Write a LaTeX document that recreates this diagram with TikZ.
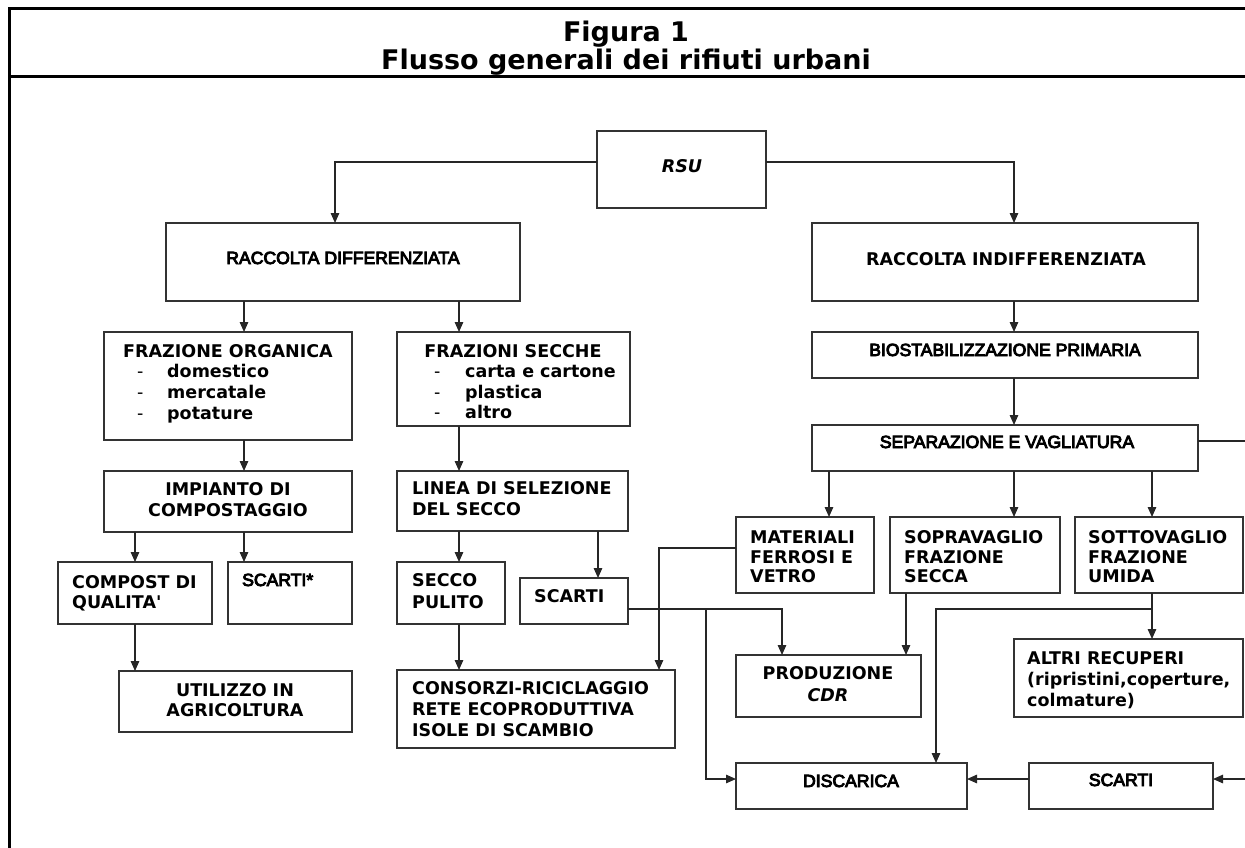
\documentclass[tikz,border=0pt]{standalone}
\usepackage{fontspec}
\newfontfamily\vfont{DejaVu Sans}
\newfontfamily\afont{Liberation Sans}[FakeBold=5]
\usetikzlibrary{arrows.meta}
\newcommand{\mybox}[5]{\node[boxst, anchor=north west, minimum width={(#4-#2)*1pt}, minimum height={(#5-#3)*1pt}] (#1) at (#2,#3) {};}
\newcommand{\txl}[5]{\node[#2, anchor=base west] (#1) at (#3,#4+6) {#5};}
\newcommand{\txc}[5]{\node[#2, anchor=base] (#1) at (#3,#4+6) {#5};}
\begin{document}
\begin{tikzpicture}[x=1pt,y=-1pt,
  boxst/.style={draw=black!80, line width=1.3pt, inner sep=0pt, outer sep=0pt},
  conn/.style={draw=black!85, line width=1.3pt},
  arr/.style={conn, -{Triangle[length=10pt,width=8.5pt]}},
  vt/.style={font=\vfont\bfseries\fontsize{17.5}{20}\selectfont, inner sep=0pt},
  vti/.style={font=\vfont\bfseries\itshape\fontsize{17.5}{20}\selectfont, inner sep=0pt},
  vtn/.style={font=\vfont\fontsize{17.5}{20}\selectfont, inner sep=0pt},
  artx/.style={font=\afont\fontsize{17.6}{20}\selectfont, inner sep=0pt},
  tt/.style={font=\vfont\bfseries\fontsize{27}{28}\selectfont, inner sep=0pt}]
\fill[white] (0,0) rectangle (1245,848);
\useasboundingbox (0,0) rectangle (1245,848);
% frame
\draw[line width=3pt, black] (1260,9) -- (9,9) -- (9,860);
\draw[line width=3pt, black] (9,77) -- (1260,77);
\node[tt, anchor=base] (title1) at (626,42) {Figura 1};
\node[tt, anchor=base] (title2) at (626,70) {Flusso generali dei rifiuti urbani};
% boxes
\mybox{rsu}{597}{131}{766}{208}
\mybox{rd}{166}{223}{520}{301}
\mybox{ri}{812}{223}{1198}{301}
\mybox{fo}{104}{332}{352}{440}
\mybox{fs}{397}{332}{630}{426}
\mybox{bio}{812}{332}{1198}{378}
\mybox{sep}{812}{425}{1198}{471}
\mybox{imp}{104}{471}{352}{532}
\mybox{lin}{397}{471}{628}{531}
\mybox{mat}{736}{517}{874}{593}
\mybox{sop}{890}{517}{1060}{593}
\mybox{sot}{1075}{517}{1243}{593}
\mybox{comp}{58}{562}{212}{624}
\mybox{sca}{228}{562}{352}{624}
\mybox{sec}{397}{562}{505}{624}
\mybox{scb}{520}{578}{628}{624}
\mybox{cons}{397}{670}{675}{748}
\mybox{cdr}{736}{655}{921}{717}
\mybox{alt}{1014}{639}{1243}{717}
\mybox{util}{119}{671}{352}{732}
\mybox{disc}{736}{763}{967}{809}
\mybox{scc}{1029}{763}{1213}{809}
% texts
\txc{trsu}{vti}{682}{166}{RSU}
\txc{trd}{artx}{343}{258}{RACCOLTA DIFFERENZIATA}
\txc{tri}{vt}{1006}{259}{RACCOLTA INDIFFERENZIATA}
\txc{tbio}{artx}{1005}{350}{BIOSTABILIZZAZIONE PRIMARIA}
\txc{tsep}{artx}{1007}{442}{SEPARAZIONE E VAGLIATURA}
\txc{tfo}{vt}{228}{351}{FRAZIONE ORGANICA}
\txl{tfod1}{vtn}{137}{371}{-}
\txl{tfod2}{vtn}{137}{392}{-}
\txl{tfod3}{vtn}{137}{413}{-}
\txl{tfo1}{vt}{167}{371}{domestico}
\txl{tfo2}{vt}{167}{392}{mercatale}
\txl{tfo3}{vt}{167}{413}{potature}
\txc{tfs}{vt}{513}{351}{FRAZIONI SECCHE}
\txl{tfsd1}{vtn}{434}{371}{-}
\txl{tfsd2}{vtn}{434}{392}{-}
\txl{tfsd3}{vtn}{434}{412}{-}
\txl{tfs1}{vt}{465}{371}{carta e cartone}
\txl{tfs2}{vt}{465}{392}{plastica}
\txl{tfs3}{vt}{465}{412}{altro}
\txc{timp1}{vt}{228}{489}{IMPIANTO DI}
\txc{timp2}{vt}{228}{510}{COMPOSTAGGIO}
\txl{tlin1}{vt}{412}{488}{LINEA DI SELEZIONE}
\txl{tlin2}{vt}{412}{509}{DEL SECCO}
\txl{tcomp1}{vt}{72}{582}{COMPOST DI}
\txl{tcomp2}{vt}{72}{602}{QUALITA'}
\txl{tsca}{artx}{242}{580}{SCARTI*}
\txl{tsec1}{vt}{412}{580}{SECCO}
\txl{tsec2}{vt}{412}{602}{PULITO}
\txl{tscb}{vt}{534}{596}{SCARTI}
\txl{tcons1}{vt}{412}{688}{CONSORZI-RICICLAGGIO}
\txl{tcons2}{vt}{412}{709}{RETE ECOPRODUTTIVA}
\txl{tcons3}{vt}{412}{730}{ISOLE DI SCAMBIO}
\txc{tcdr1}{vt}{828}{673}{PRODUZIONE}
\txc{tcdr2}{vti}{828}{695}{CDR}
\txl{tmat1}{vt}{750}{537}{MATERIALI}
\txl{tmat2}{vt}{750}{557}{FERROSI E}
\txl{tmat3}{vt}{750}{576}{VETRO}
\txl{tsop1}{vt}{904}{537}{SOPRAVAGLIO}
\txl{tsop2}{vt}{904}{557}{FRAZIONE}
\txl{tsop3}{vt}{904}{576}{SECCA}
\txl{tsot1}{vt}{1088}{537}{SOTTOVAGLIO}
\txl{tsot2}{vt}{1088}{557}{FRAZIONE}
\txl{tsot3}{vt}{1088}{576}{UMIDA}
\txl{talt1}{vt}{1027}{658}{ALTRI RECUPERI}
\txl{talt2}{vt}{1027}{679}{(ripristini,coperture,}
\txl{talt3}{vt}{1027}{700}{colmature)}
\txc{tutil1}{vt}{235}{690}{UTILIZZO IN}
\txc{tutil2}{vt}{235}{710}{AGRICOLTURA}
\txc{tdisc}{artx}{851}{781}{DISCARICA}
\txc{tscc}{artx}{1121}{780}{SCARTI}
% connector coordinates
\coordinate (xa) at (244,0);
\coordinate (xb) at (459,0);
\coordinate (xc) at (135,0);
\coordinate (xd) at (598,0);
\coordinate (xe) at (1014,0);
\coordinate (xf) at (829,0);
\coordinate (xg) at (1152,0);
\coordinate (xh) at (906,0);
\coordinate (k1) at (335,162);
\coordinate (k2) at (1014,162);
\coordinate (k3) at (659,548);
\coordinate (k4) at (782,609);
\coordinate (k5) at (706,609);
\coordinate (k6) at (706,779);
\coordinate (k7) at (1152,609);
\coordinate (k8) at (936,609);
\coordinate (sepR) at (1260,441);
\coordinate (edR) at (1260,779);
% connectors
\draw[arr] (rsu.west |- k1) -- (k1) -- (rd.north -| k1);
\draw[arr] (rsu.east |- k2) -- (k2) -- (ri.north -| k2);
\draw[arr] (rd.south -| xa) -- (fo.north -| xa);
\draw[arr] (rd.south -| xb) -- (fs.north -| xb);
\draw[arr] (ri.south -| xe) -- (bio.north -| xe);
\draw[arr] (bio.south -| xe) -- (sep.north -| xe);
\draw[arr] (fo.south -| xa) -- (imp.north -| xa);
\draw[arr] (fs.south -| xb) -- (lin.north -| xb);
\draw[arr] (imp.south -| xc) -- (comp.north -| xc);
\draw[arr] (imp.south -| xa) -- (sca.north -| xa);
\draw[arr] (lin.south -| xb) -- (sec.north -| xb);
\draw[arr] (lin.south -| xd) -- (scb.north -| xd);
\draw[arr] (comp.south -| xc) -- (util.north -| xc);
\draw[arr] (sec.south -| xb) -- (cons.north -| xb);
\draw[arr] (sep.south -| xf) -- (mat.north -| xf);
\draw[arr] (sep.south -| xe) -- (sop.north -| xe);
\draw[arr] (sep.south -| xg) -- (sot.north -| xg);
\draw[conn] (sep.east |- sepR) -- (sepR);
\draw[arr] (mat.west |- k3) -- (k3) -- (cons.north -| k3);
\draw[arr] (scb.east |- k4) -- (k4) -- (cdr.north -| k4);
\draw[arr] (k5) -- (k6) -- (disc.west |- k6);
\draw[arr] (sop.south -| xh) -- (cdr.north -| xh);
\draw[arr] (sot.south -| xg) -- (alt.north -| xg);
\draw[arr] (k7) -- (k8) -- (disc.north -| k8);
\draw[arr] (scc.west |- k6) -- (disc.east |- k6);
\draw[arr] (edR) -- (scc.east |- edR);
\end{tikzpicture}
\end{document}
